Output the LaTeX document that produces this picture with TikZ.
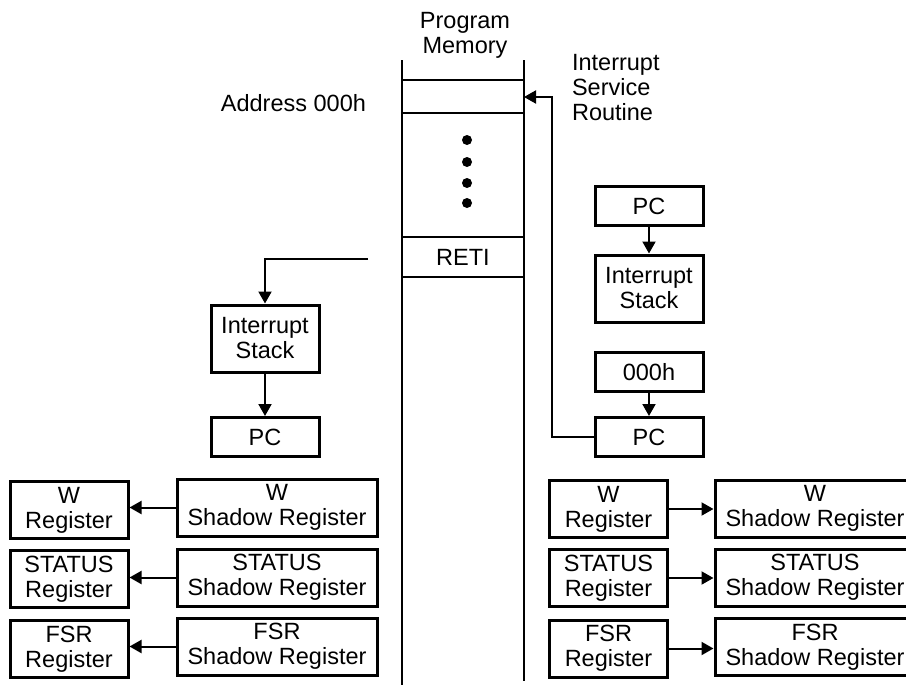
\documentclass[tikz,border=0pt]{standalone}
\usepackage{fontspec}
\setmainfont{Liberation Sans}
\usetikzlibrary{arrows.meta, positioning}

\tikzset{
  box/.style={draw, line width=1.5pt, align=center, inner sep=0pt, minimum width=54pt, minimum height=19.5pt},
  stackbox/.style={box, minimum height=33.5pt},
  regbox/.style={box, minimum width=59pt, minimum height=28.5pt},
  shadowbox/.style={box, minimum width=100pt, minimum height=28.5pt},
  flow/.style={line width=1pt, -{Triangle[length=6pt, width=6.5pt]}},
  memline/.style={line width=1.4pt},
}

\begin{document}
\begin{tikzpicture}[x=0.5pt, y=-0.5pt, font=\fontsize{11.75pt}{12.5pt}\selectfont]
	\useasboundingbox (0,0) rectangle (906,685);
	\clip (0,0) rectangle (906,685);

	% program memory column
	\draw[memline] (402,60) -- (402,685);
	\draw[memline] (524,60) -- (524,681);
	\foreach \y in {80,113,237,277}
		\draw[line width=1pt] (402,\y) -- (524,\y);
	\foreach \y in {140,162,183,203}
		\fill (467,\y) circle (2.5pt);
	\node (mem) at (465,35) [align=center] {Program\\Memory};
	\node (addr) at (373,103) [anchor=east] {Address 000h};
	\node (isr) at (565,88) [anchor=west, align=left] {Interrupt\\Service\\Routine};
	\node (reti) at (463,257) {RETI};
	\coordinate (entry) at (524,97);
	\coordinate (retiout) at (368,259);

	% left side: return from interrupt
	\node[stackbox] (lstack) at (265,338.5) {Interrupt\\Stack};
	\node[box] (lpc) at (265,437) {PC};
	\node[regbox] (lW) at (69,510) {W\\Register};
	\node[regbox] (lS) at (69,579) {STATUS\\Register};
	\node[regbox] (lF) at (69,649) {FSR\\Register};
	\node[shadowbox] (lWs) at (277,507.5) {W\\Shadow Register};
	\node[shadowbox] (lSs) at (277,577.5) {STATUS\\Shadow Register};
	\node[shadowbox] (lFs) at (277,646.5) {FSR\\Shadow Register};

	% right side: interrupt entry
	\node[box] (rpc1) at (649,206) {PC};
	\node[stackbox] (rstack) at (649,288.5) {Interrupt\\Stack};
	\node[box] (r000) at (649,372) {000h};
	\node[box] (rpc2) at (649,437) {PC};
	\node[regbox] (rW) at (608.5,509) {W\\Register};
	\node[regbox] (rS) at (608.5,578) {STATUS\\Register};
	\node[regbox] (rF) at (608.5,648.5) {FSR\\Register};
	\node[shadowbox] (rWs) at (815,508.5) {W\\Shadow Register};
	\node[shadowbox] (rSs) at (815,577.5) {STATUS\\Shadow Register};
	\node[shadowbox] (rFs) at (815,647) {FSR\\Shadow Register};

	\draw[flow] (retiout) -| (lstack.north);
	\draw (lstack) edge[flow] (lpc);
	\draw[flow] (lWs.west) -- (lWs.west -| lW.east);
	\draw[flow] (lSs.west) -- (lSs.west -| lS.east);
	\draw[flow] (lFs.west) -- (lFs.west -| lF.east);

	\draw (rpc1) edge[flow] (rstack);
	\draw (r000) edge[flow] (rpc2);
	\draw[flow] (rpc2.west) -- ++(-42,0) |- (entry);
	\draw[flow] (rW.east) -- (rW.east -| rWs.west);
	\draw[flow] (rS.east) -- (rS.east -| rSs.west);
	\draw[flow] (rF.east) -- (rF.east -| rFs.west);
\end{tikzpicture}
\end{document}
